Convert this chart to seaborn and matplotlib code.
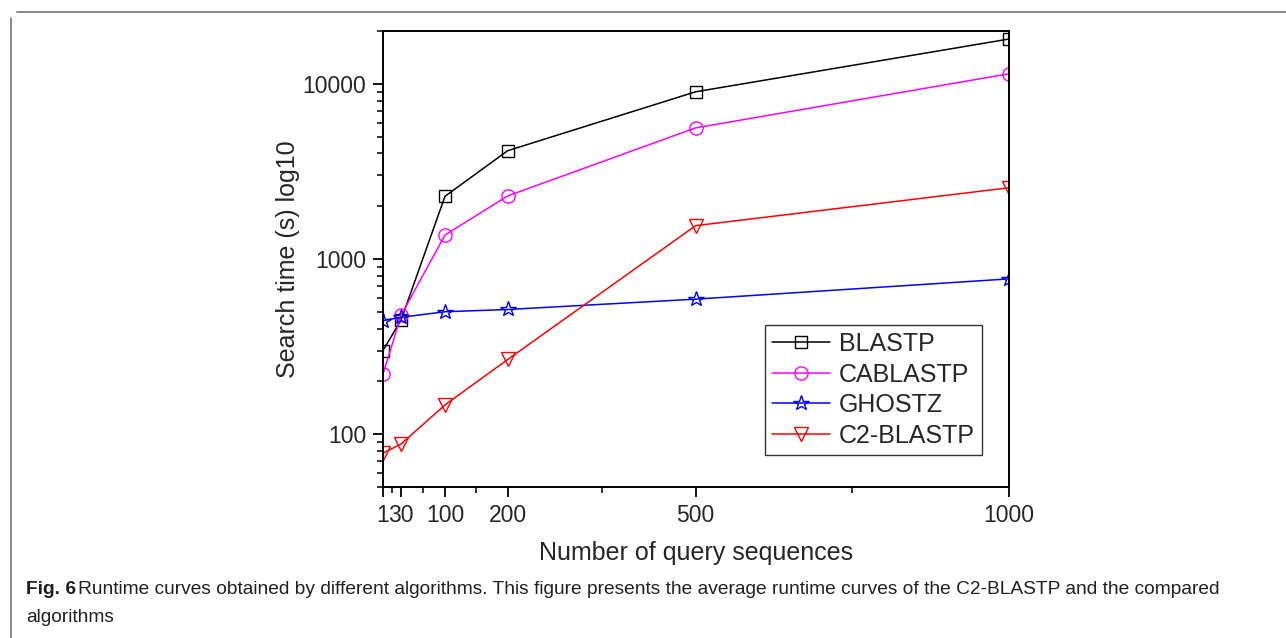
import numpy as np
import pandas as pd
import matplotlib
matplotlib.use("Agg")
import matplotlib.pyplot as plt
import matplotlib.ticker as mticker
from matplotlib.lines import Line2D
import seaborn as sns

# data
queries = [1, 30, 100, 200, 500, 1000]
blastp = [300, 450, 2280, 4150, 9000, 18000]
cablastp = [220, 478, 1370, 2290, 5600, 11400]
ghostz = [445, 465, 500, 515, 590, 770]
c2_blastp = [78, 88, 147, 267, 1550, 2550]

series = ["BLASTP", "CABLASTP", "GHOSTZ", "C2-BLASTP"]
colors = ["black", "#ff00ff", "#0000ff", "#ff0000"]
markers = ["s", "o", "*", "v"]
msizes = [8.5, 9.5, 11.5, 10.5]

df = pd.DataFrame({"queries": queries * 4,
                   "time": blastp + cablastp + ghostz + c2_blastp,
                   "algo": np.repeat(series, len(queries))})

sns.set_style("white")
plt.rcParams['font.family'] = ['Liberation Sans', 'DejaVu Sans']

fig = plt.figure(figsize=(12.86, 6.38), dpi=100)
ax = fig.add_axes([0.2978, 0.2367, 0.4868, 0.7147])

for name, col, mk, ms in zip(series, colors, markers, msizes):
    sub = df[df["algo"] == name]
    sns.lineplot(data=sub, x="queries", y="time", ax=ax, color=col,
                 marker=mk, markersize=ms, markerfacecolor="none",
                 markeredgecolor=col, markeredgewidth=1.0, linewidth=1.1,
                 label=name)

ax.set_yscale("log")
ax.set_xlim(1, 1000)
ax.set_ylim(50, 20000)

ax.set_xticks(queries)
ax.set_xticklabels([str(q) for q in queries])
ax.set_xticks([15.5, 65, 150, 350, 750], minor=True)
ax.yaxis.set_major_locator(mticker.FixedLocator([100, 1000, 10000]))
ax.yaxis.set_major_formatter(mticker.FixedFormatter(["100", "1000", "10000"]))
ax.yaxis.set_minor_locator(mticker.LogLocator(base=10, subs=np.arange(2, 10)))
ax.yaxis.set_minor_formatter(mticker.NullFormatter())

ax.tick_params(axis="both", which="major", direction="out", length=7,
               width=1.3, labelsize=16.5, color="black", left=True, bottom=True,
               pad=5)
ax.tick_params(axis="both", which="minor", direction="out", length=4.5,
               width=1.3, left=True, bottom=True)
for sp in ax.spines.values():
    sp.set_visible(True)
    sp.set_color("black")
    sp.set_linewidth(1.4)

ax.set_xlabel("Number of query sequences", fontsize=18, labelpad=10)
ax.set_ylabel("Search time (s) log10", fontsize=18, labelpad=2)
ax.grid(False)

leg = ax.legend(loc="lower right", bbox_to_anchor=(0.957, 0.07), fontsize=18,
                frameon=True, fancybox=False, edgecolor="black",
                handlelength=2.3, handletextpad=0.35, labelspacing=0.26,
                borderpad=0.3, borderaxespad=0)
leg.get_frame().set_linewidth(1.0)

# page frame around the figure (top and left edges)
fig.add_artist(Line2D([11 / 1286, 11 / 1286], [0, 1 - 18 / 638],
                      color="#777777", linewidth=1.2, transform=fig.transFigure))
fig.add_artist(Line2D([17 / 1286, 1], [1 - 12 / 638, 1 - 12 / 638],
                      color="#777777", linewidth=1.2, transform=fig.transFigure))

# caption
cap_font = ['Liberation Sans Narrow', 'Liberation Sans', 'DejaVu Sans']
cap_col = "#231f20"
fig.text(26 / 1286, 1 - 590 / 638, "Fig. 6", fontsize=13.8, fontweight="bold",
         family=cap_font, va="center", ha="left", color=cap_col)
fig.text(78 / 1286, 1 - 590 / 638,
         "Runtime curves obtained by different algorithms. This figure presents the average "
         "runtime curves of the C2-BLASTP and the compared",
         fontsize=13.8, family=cap_font, va="center", ha="left", color=cap_col)
fig.text(26 / 1286, 1 - 617 / 638, "algorithms", fontsize=13.8, family=cap_font,
         va="center", ha="left", color=cap_col)

fig.savefig("out.png", dpi=100)
